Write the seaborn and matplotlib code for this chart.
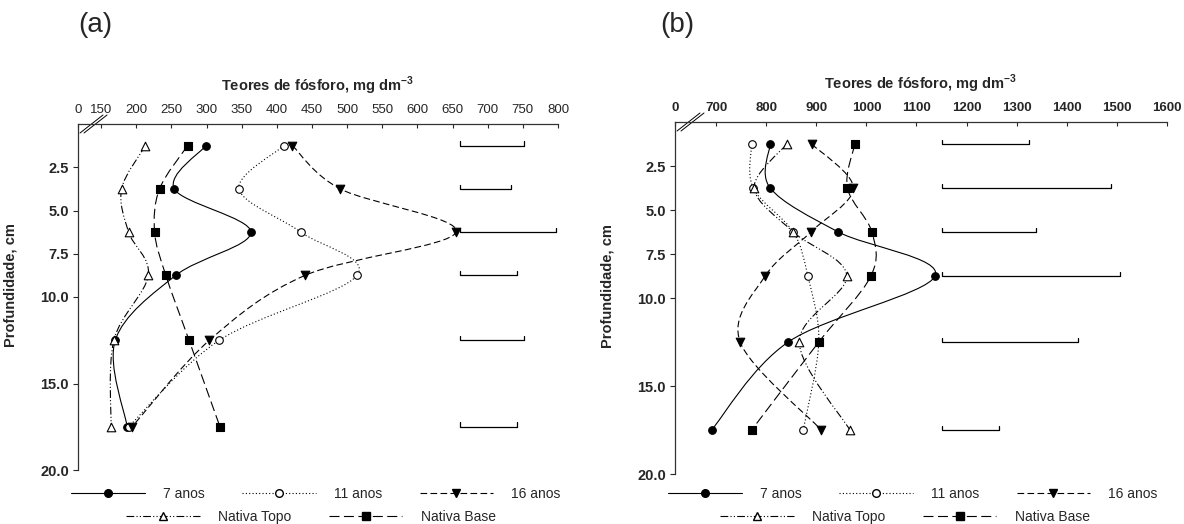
import numpy as np
import pandas as pd
import matplotlib
matplotlib.use('Agg')
import matplotlib.pyplot as plt
import seaborn as sns
from matplotlib.path import Path
from matplotlib.patches import PathPatch
from matplotlib.lines import Line2D

# profundidades (cm)
prof = [1.25, 3.75, 6.25, 8.75, 12.5, 17.5]
series = ['7 anos', '11 anos', '16 anos', 'Nativa Topo', 'Nativa Base']

# (a) teores de fósforo, mg dm-3
a_7 = [299, 254, 363, 256, 170, 187]
a_11 = [410, 346, 434, 514, 318, 189]
a_16 = [422, 490, 655, 440, 304, 194]
a_topo = [213, 179, 189, 217, 168, 164]
a_base = [273, 233, 226, 242, 275, 319]
a_dms_ini = 660
a_dms = [92, 73, 137, 82, 91, 82]

# (b)
b_7 = [808, 808, 944, 1137, 844, 691]
b_11 = [771, 774, 854, 883, 905, 874]
b_16 = [891, 974, 889, 798, 748, 910]
b_topo = [841, 776, 854, 961, 866, 967]
b_base = [977, 962, 1011, 1009, 905, 771]
b_dms_ini = 1150
b_dms = [174, 338, 188, 356, 272, 115]

a_ticks = list(range(150, 801, 50))
b_ticks = list(range(700, 1601, 100))

sns.set_style('white')
plt.rcParams['font.family'] = ['Liberation Sans', 'DejaVu Sans']
plt.rcParams['mathtext.fontset'] = 'custom'
plt.rcParams['mathtext.rm'] = 'Liberation Sans'
plt.rcParams['mathtext.bf'] = 'Liberation Sans:bold'

estilos = {
    '7 anos': dict(marker='o', fc='black', ls='-', s=30),
    '11 anos': dict(marker='o', fc='white', ls=(0, (1, 2)), s=30),
    '16 anos': dict(marker='v', fc='black', ls=(0, (6, 3)), s=38),
    'Nativa Topo': dict(marker='^', fc='white', ls=(0, (7, 2, 1, 2, 1, 2)), s=38),
    'Nativa Base': dict(marker='s', fc='black', ls=(0, (9, 4)), s=30),
}


def curva_suave(xs, ys):
    # spline (Catmull-Rom) como caminho Bezier
    pts = np.column_stack([xs, ys]).astype(float)
    n = len(pts)
    verts = [pts[0]]
    codes = [Path.MOVETO]
    for i in range(n - 1):
        p0 = pts[i - 1] if i > 0 else pts[i]
        p1, p2 = pts[i], pts[i + 1]
        p3 = pts[i + 2] if i + 2 < n else pts[i + 1]
        verts += [p1 + (p2 - p0) / 6, p2 - (p3 - p1) / 6, p2]
        codes += [Path.CURVE4] * 3
    return Path(verts, codes)


def painel(ax, valores, x0, ticks, dms_ini, dms, bold_x):
    df = pd.DataFrame({'prof': prof * len(series),
                       'teor': np.concatenate(valores),
                       'trat': np.repeat(series, len(prof))})
    for nome in series:
        sub = df[df['trat'] == nome]
        st = estilos[nome]
        ax.add_patch(PathPatch(curva_suave(sub['teor'], sub['prof']), fill=False,
                               edgecolor='black', lw=0.8, linestyle=st['ls'], zorder=2))
        sns.scatterplot(data=sub, x='teor', y='prof', marker=st['marker'], s=st['s'],
                        color=st['fc'], edgecolor='black', linewidth=0.8,
                        ax=ax, legend=False, zorder=3)
    # barras DMS
    for p, d in zip(prof, dms):
        ax.plot([dms_ini, dms_ini, dms_ini + d, dms_ini + d], [p - 0.25, p, p, p - 0.25],
                color='black', lw=0.9, zorder=2)
    ax.set_xlim(x0, ticks[-1])
    ax.set_ylim(20, 0)
    ax.xaxis.tick_top()
    ax.xaxis.set_label_position('top')
    ax.set_xticks([x0] + ticks)
    ax.set_xticklabels(['0'] + [str(t) for t in ticks],
                       fontweight='bold' if bold_x else 'normal')
    ax.tick_params(axis='x', direction='in', length=3, width=0.8, pad=6, labelsize=9.5)
    ax.set_yticks([2.5, 5, 7.5, 10, 15, 20])
    ax.set_yticklabels(['2.5', '5.0', '7.5', '10.0', '15.0', '20.0'], fontweight='bold')
    ax.tick_params(axis='y', direction='out', length=3.5, width=0.8, pad=3, labelsize=10.5, left=True)
    for lado in ['bottom', 'right']:
        ax.spines[lado].set_visible(False)
    for lado in ['top', 'left']:
        ax.spines[lado].set_color('#333333')
        ax.spines[lado].set_linewidth(0.9)
    ax.set_xlabel(r'Teores de fósforo, mg dm$^{\mathbf{-3}}$', fontweight='bold',
                  fontsize=10.5, labelpad=9)
    ax.set_ylabel('Profundidade, cm', fontweight='bold', fontsize=10.5)
    # marca de quebra do eixo
    fw, fh = ax.figure.get_size_inches() * ax.figure.dpi
    bb = ax.get_position()
    wpx, hpx = bb.width * fw, bb.height * fh
    for off in (0, 4):
        ax.plot([(2 + off) / wpx, (25 + off) / wpx], [1 - 9 / hpx, 1 + 9 / hpx],
                transform=ax.transAxes, color='black', lw=0.7, clip_on=False)
    ax.yaxis.set_label_coords(-60 / wpx, 0.535)


fig = plt.figure(figsize=(11.84, 5.24), dpi=100)
ax_a = fig.add_axes([78 / 1184, 1 - 470 / 524, 480 / 1184, 346 / 524])
ax_b = fig.add_axes([675 / 1184, 1 - 474 / 524, 492 / 1184, 352 / 524])

painel(ax_a, [a_7, a_11, a_16, a_topo, a_base], 117, a_ticks, a_dms_ini, a_dms, False)
painel(ax_b, [b_7, b_11, b_16, b_topo, b_base], 618, b_ticks, b_dms_ini, b_dms, True)

fig.text(78 / 1184, 1 - 25 / 524, '(a)', fontsize=20, va='center')
fig.text(660 / 1184, 1 - 25 / 524, '(b)', fontsize=20, va='center')

handles = [Line2D([], [], color='black', lw=0.8, linestyle=estilos[n]['ls'],
                  marker=estilos[n]['marker'], markerfacecolor=estilos[n]['fc'],
                  markeredgecolor='black', markersize=5.5) for n in series]
leg_kw = dict(frameon=False, handlelength=5.3, handletextpad=1.3, columnspacing=2.7,
              fontsize=10, loc='center', borderpad=0, borderaxespad=0)
for cx1, cx2 in [(316, 311), (913, 905)]:
    l1 = fig.legend(handles[:3], series[:3], ncol=3,
                    bbox_to_anchor=(cx1 / 1184, 1 - 494 / 524), **leg_kw)
    l2 = fig.legend(handles[3:], series[3:], ncol=2,
                    bbox_to_anchor=(cx2 / 1184, 1 - 517 / 524), **leg_kw)

fig.savefig('out.png', dpi=100)
